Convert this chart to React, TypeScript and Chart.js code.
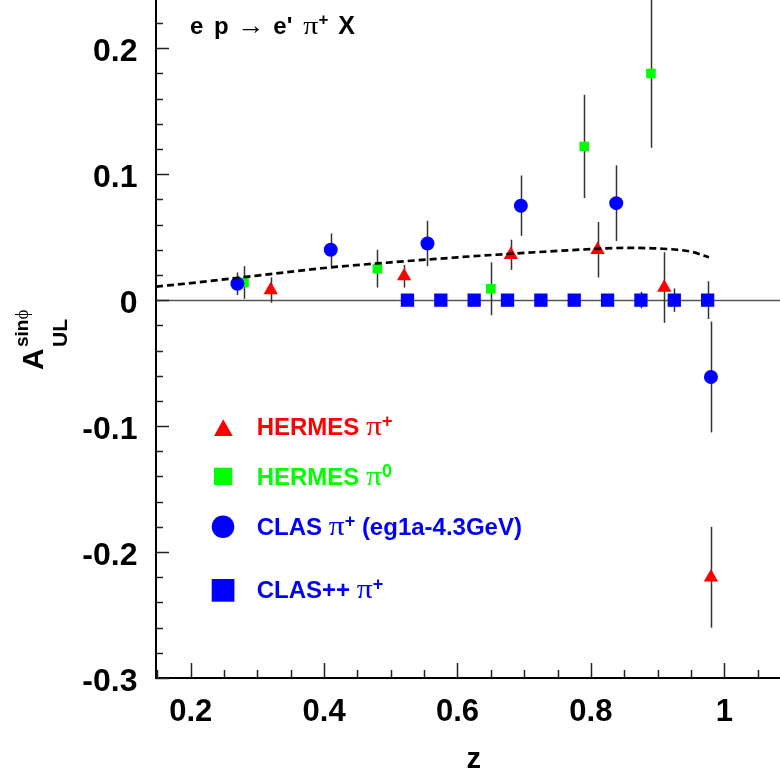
import React, { useEffect, useRef } from 'react';
import { Chart, registerables } from 'chart.js';

Chart.register(...registerables);

// ---------- data ----------
const hermesPipZ = [0.32, 0.52, 0.68, 0.81, 0.91, 0.98];
const hermesPipA = [0.008, 0.019, 0.036, 0.040, 0.010, -0.220];
const hermesPipErr = [0.010, 0.009, 0.012, 0.022, 0.028, 0.040];

const hermesPi0Z = [0.28, 0.48, 0.65, 0.79, 0.89];
const hermesPi0A = [0.014, 0.025, 0.009, 0.122, 0.180];
const hermesPi0Err = [0.013, 0.015, 0.021, 0.041, 0.059];

const clasZ = [0.27, 0.41, 0.555, 0.695, 0.838, 0.98];
const clasA = [0.013, 0.040, 0.045, 0.075, 0.077, -0.061];
const clasErr = [0.009, 0.013, 0.018, 0.024, 0.030, 0.044];

const clasPPZ = [0.525, 0.575, 0.625, 0.675, 0.725, 0.775, 0.825, 0.875, 0.925, 0.975];
const clasPPA = [0, 0, 0, 0, 0, 0, 0, 0, 0, 0];
const clasPPErr = [0.003, 0.003, 0.003, 0.004, 0.004, 0.004, 0.005, 0.0066, 0.0093, 0.015];

const theoryZ = [0.148, 0.2, 0.3, 0.4, 0.5, 0.6, 0.7, 0.8, 0.85, 0.9, 0.95, 0.977];
const theoryA = [0.0108, 0.0135, 0.0195, 0.0255, 0.030, 0.034, 0.0375, 0.0405, 0.0415, 0.041, 0.0385, 0.034];

const xMajorTicks = [0.2, 0.4, 0.6, 0.8, 1.0];
const xTickLabels = ['0.2', '0.4', '0.6', '0.8', '1'];
const xMinorTicks = [0.15, 0.25, 0.3, 0.35, 0.45, 0.5, 0.55, 0.65, 0.7, 0.75, 0.85, 0.9, 0.95, 1.05];
const yMajorTicks = [-0.3, -0.2, -0.1, 0, 0.1, 0.2];
const yTickLabels = ['-0.3', '-0.2', '-0.1', '0', '0.1', '0.2'];
const yMinorTicks = [-0.28, -0.26, -0.24, -0.22, -0.18, -0.16, -0.14, -0.12, -0.08, -0.06, -0.04, -0.02,
  0.02, 0.04, 0.06, 0.08, 0.12, 0.14, 0.16, 0.18, 0.22];

const X_MIN = 0.148;
const X_MAX = 1.0835;
const Y_MIN = -0.3;
const Y_MAX = 0.2383;

const RED = '#ff0000';
const GREEN = '#00ff00';
const BLUE = '#0000ff';
const SANS = '"Liberation Sans", Arial, Helvetica, sans-serif';
const SERIF = '"Liberation Serif", "DejaVu Serif", serif';

const pts = (xs: number[], ys: number[]) => xs.map((v, i) => ({ x: v, y: ys[i] }));

type Part = { t: string; font: string; dy?: number; x?: number; w?: number };

function richText(ctx: CanvasRenderingContext2D, x: number, y: number, color: string, parts: Part[]) {
  let cx = x;
  ctx.fillStyle = color;
  ctx.textAlign = 'left';
  ctx.textBaseline = 'alphabetic';
  for (const p of parts) {
    ctx.font = p.font;
    const px = p.x !== undefined ? p.x : cx;
    if (p.w) {
      const mw = ctx.measureText(p.t).width;
      ctx.save();
      ctx.translate(px, y + (p.dy || 0));
      ctx.scale(p.w / mw, 1);
      ctx.fillText(p.t, 0, 0);
      ctx.restore();
      cx = px + p.w;
    } else {
      ctx.fillText(p.t, px, y + (p.dy || 0));
      cx = px + ctx.measureText(p.t).width;
    }
  }
}

const errorBarPlugin = {
  id: 'errorBars',
  beforeDatasetsDraw(chart: any) {
    const { ctx, chartArea, scales } = chart;
    const x = scales.x;
    const y = scales.y;
    ctx.save();
    ctx.beginPath();
    ctx.rect(chartArea.left, chartArea.top, chartArea.right - chartArea.left, chartArea.bottom - chartArea.top);
    ctx.clip();
    // zero line
    const y0 = Math.round(y.getPixelForValue(0)) + 0.5;
    ctx.strokeStyle = '#555';
    ctx.lineWidth = 1.5;
    ctx.beginPath();
    ctx.moveTo(chartArea.left, y0);
    ctx.lineTo(chartArea.right, y0);
    ctx.stroke();
    // error bars
    ctx.strokeStyle = '#333';
    ctx.lineWidth = 1.5;
    chart.data.datasets.forEach((ds: any) => {
      if (!ds.errors) return;
      ds.data.forEach((p: any, i: number) => {
        const e = ds.errors[i];
        if (!e) return;
        const px = Math.round(x.getPixelForValue(p.x)) + 0.5;
        ctx.beginPath();
        ctx.moveTo(px, y.getPixelForValue(p.y + e));
        ctx.lineTo(px, y.getPixelForValue(p.y - e));
        ctx.stroke();
      });
    });
    ctx.restore();
  },
};

const decorPlugin = {
  id: 'decor',
  afterDraw(chart: any) {
    const { ctx, chartArea, scales } = chart;
    const x = scales.x;
    const y = scales.y;
    const L = chartArea.left;
    const B = chartArea.bottom;
    ctx.save();
    // axis lines
    ctx.strokeStyle = '#000';
    ctx.lineWidth = 2;
    ctx.beginPath();
    ctx.moveTo(L, chartArea.top);
    ctx.lineTo(L, B);
    ctx.lineTo(chartArea.right, B);
    ctx.stroke();
    // ticks
    ctx.strokeStyle = '#222';
    ctx.lineWidth = 1.5;
    yMajorTicks.forEach((v) => {
      const py = Math.round(y.getPixelForValue(v)) + 0.5;
      ctx.beginPath(); ctx.moveTo(L, py); ctx.lineTo(L + 13, py); ctx.stroke();
    });
    yMinorTicks.forEach((v) => {
      const py = Math.round(y.getPixelForValue(v)) + 0.5;
      ctx.beginPath(); ctx.moveTo(L, py); ctx.lineTo(L + 7, py); ctx.stroke();
    });
    xMajorTicks.forEach((v) => {
      const px = Math.round(x.getPixelForValue(v)) + 0.5;
      ctx.beginPath(); ctx.moveTo(px, B); ctx.lineTo(px, B - 15); ctx.stroke();
    });
    xMinorTicks.forEach((v) => {
      const px = Math.round(x.getPixelForValue(v)) + 0.5;
      ctx.beginPath(); ctx.moveTo(px, B); ctx.lineTo(px, B - 8); ctx.stroke();
    });
    // tick labels
    ctx.fillStyle = '#000';
    ctx.font = `bold 32px ${SANS}`;
    ctx.textAlign = 'right';
    ctx.textBaseline = 'alphabetic';
    yMajorTicks.forEach((v, i) => {
      ctx.fillText(yTickLabels[i], 137.5, y.getPixelForValue(v) + 12.5);
    });
    ctx.font = `bold 31px ${SANS}`;
    ctx.textAlign = 'center';
    xMajorTicks.forEach((v, i) => {
      ctx.fillText(xTickLabels[i], x.getPixelForValue(v), 720.5);
    });
    // x title
    ctx.font = `bold 29px ${SANS}`;
    ctx.fillText('z', 473.7, 768);
    // y title (rotated)
    ctx.save();
    ctx.translate(43.3, 370);
    ctx.rotate(-Math.PI / 2);
    richText(ctx, 0, 0, '#000', [{ t: 'A', font: `bold 30px ${SANS}` }]);
    richText(ctx, 23, -15.3, '#000', [
      { t: 'sin', font: `bold 19px ${SANS}` },
      { t: '\u03D5', font: `19px ${SERIF}` },
    ]);
    richText(ctx, 23, 23.7, '#000', [{ t: 'UL', font: `bold 21px ${SANS}` }]);
    ctx.restore();
    // reaction text
    const T = `bold 24px ${SANS}`;
    richText(ctx, 190, 34, '#000', [
      { t: 'e', font: T, x: 190 },
      { t: 'p', font: T, x: 214 },
      { t: '\u2192', font: `26px ${SERIF}`, x: 237.3, w: 27.7 },
      { t: 'e\'', font: T, x: 273.3 },
      { t: '\u03C0', font: `26px ${SERIF}`, x: 303.3, w: 15 },
      { t: '+', font: `bold 17px ${SANS}`, x: 318.5, dy: -9 },
      { t: 'X', font: `bold 25px ${SANS}`, x: 338.3 },
    ]);
    // legend markers
    ctx.fillStyle = RED;
    ctx.beginPath();
    ctx.moveTo(223.3, 419.3);
    ctx.lineTo(232.7, 436);
    ctx.lineTo(214, 436);
    ctx.closePath();
    ctx.fill();
    ctx.fillStyle = GREEN;
    ctx.fillRect(214, 467.7, 18.3, 17.3);
    ctx.fillStyle = BLUE;
    ctx.beginPath();
    ctx.arc(223, 526.7, 11.3, 0, Math.PI * 2);
    ctx.fill();
    ctx.fillRect(211.7, 579, 22.7, 22.7);
    // legend text
    const B24 = `bold 24px ${SANS}`;
    const PI = `28px ${SERIF}`;
    const SUP = `bold 18px ${SANS}`;
    richText(ctx, 256.7, 435, RED, [
      { t: 'HERMES ', font: B24 }, { t: '\u03C0', font: PI, w: 16 }, { t: '+', font: SUP, dy: -8 },
    ]);
    richText(ctx, 256.7, 484.5, GREEN, [
      { t: 'HERMES ', font: B24 }, { t: '\u03C0', font: PI, w: 16 }, { t: '0', font: SUP, dy: -8 },
    ]);
    richText(ctx, 256.7, 535, BLUE, [
      { t: 'CLAS ', font: B24 }, { t: '\u03C0', font: PI, w: 16 }, { t: '+', font: SUP, dy: -8 },
      { t: ' (eg1a-4.3GeV)', font: B24 },
    ]);
    richText(ctx, 256.7, 598, BLUE, [
      { t: 'CLAS++ ', font: B24 }, { t: '\u03C0', font: PI, w: 16 }, { t: '+', font: SUP, dy: -8 },
    ]);
    ctx.restore();
  },
};

export default function App() {
  const ref = useRef<HTMLCanvasElement | null>(null);
  useEffect(() => {
    document.body.style.margin = '0';
    const canvas = ref.current;
    if (!canvas) return;
    const chart = new Chart(canvas, {
      type: 'scatter',
      data: {
        datasets: [
          {
            label: 'theory',
            data: pts(theoryZ, theoryA),
            showLine: true,
            borderColor: '#000',
            borderWidth: 2.7,
            borderDash: [7, 4],
            pointRadius: 0,
            cubicInterpolationMode: 'monotone',
            order: 0,
          } as any,
          {
            label: 'HERMES π0',
            data: pts(hermesPi0Z, hermesPi0A),
            errors: hermesPi0Err,
            pointStyle: 'rect',
            pointRadius: 6.8,
            backgroundColor: GREEN,
            borderWidth: 0,
            order: 5,
          } as any,
          {
            label: 'HERMES π+',
            data: pts(hermesPipZ, hermesPipA),
            errors: hermesPipErr,
            pointStyle: 'triangle',
            pointRadius: 8.3,
            backgroundColor: RED,
            borderWidth: 0,
            order: 4,
          } as any,
          {
            label: 'CLAS++ π+',
            data: pts(clasPPZ, clasPPA),
            errors: clasPPErr,
            pointStyle: 'rect',
            pointRadius: 9.4,
            backgroundColor: BLUE,
            borderWidth: 0,
            order: 3,
          } as any,
          {
            label: 'CLAS π+ (eg1a-4.3GeV)',
            data: pts(clasZ, clasA),
            errors: clasErr,
            pointStyle: 'circle',
            pointRadius: 7,
            backgroundColor: BLUE,
            borderWidth: 0,
            order: 2,
          } as any,
        ],
      },
      options: {
        animation: false,
        responsive: false,
        maintainAspectRatio: false,
        devicePixelRatio: 1,
        layout: { autoPadding: false, padding: { left: 156, right: 0, top: 0, bottom: 98 } },
        scales: {
          x: { type: 'linear', min: X_MIN, max: X_MAX, display: false },
          y: { type: 'linear', min: Y_MIN, max: Y_MAX, display: false },
        },
        plugins: {
          legend: { display: false },
          tooltip: { enabled: false },
        },
        elements: { point: { hoverRadius: 0 } },
      },
      plugins: [errorBarPlugin, decorPlugin],
    });
    return () => chart.destroy();
  }, []);
  return (
    <div style={{ width: 780, height: 776, background: '#fff' }}>
      <canvas ref={ref} width={780} height={776} style={{ display: 'block' }} />
    </div>
  );
}
